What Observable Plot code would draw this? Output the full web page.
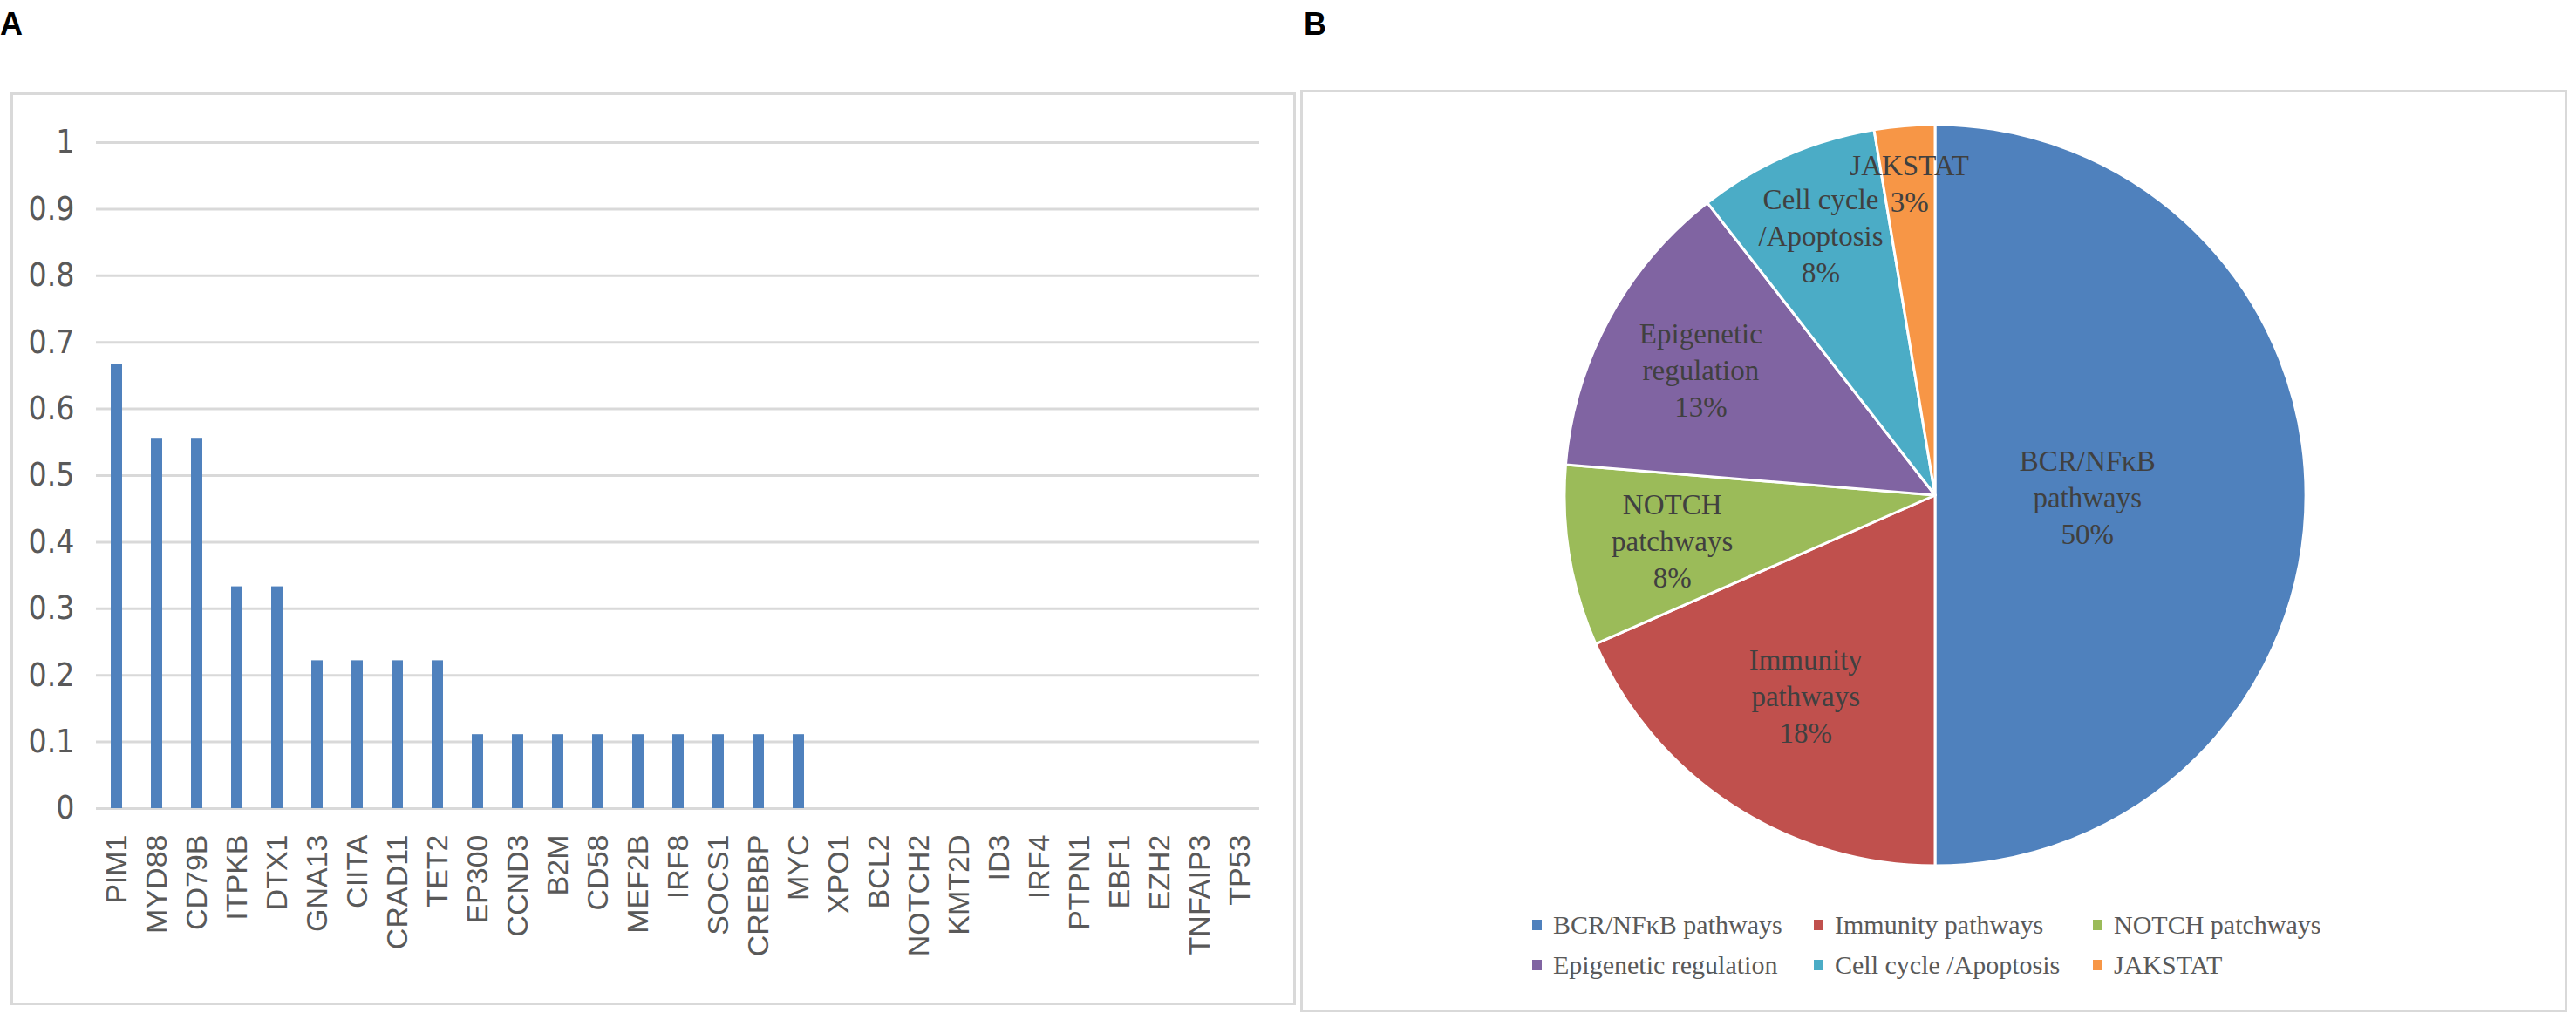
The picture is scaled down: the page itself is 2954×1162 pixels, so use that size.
<!DOCTYPE html>
<html>
<head>
<meta charset="utf-8">
<script src="https://cdn.jsdelivr.net/npm/d3@7"></script>
<script src="https://cdn.jsdelivr.net/npm/@observablehq/plot@0.6"></script>
<style>
  html, body { margin: 0; padding: 0; background: #fff; }
  #page { position: relative; width: 2954px; height: 1162px; overflow: hidden; background: #fff; }
  .panel-letter { position: absolute; font-family: "Liberation Sans", Arial, sans-serif; font-weight: bold; font-size: 36px; line-height: 1; color: #000; }
  .box { position: absolute; box-sizing: border-box; border: 3px solid #d9d9d9; background: #fff; }
  .plot { position: absolute; }
  #legend { position: absolute; left: 1757px; top: 1042px; font-family: "Liberation Serif", "Times New Roman", serif; font-size: 30px; color: #595959; display: grid; grid-template-columns: 323px 320px 300px; row-gap: 8px; }
  #legend .item { display: flex; align-items: center; height: 38px; white-space: nowrap; }
  #legend .sw { width: 11px; height: 12px; margin-right: 13px; flex: none; }
</style>
</head>
<body>
<div id="page">
  <div class="panel-letter" style="left:0px; top:10px;">A</div>
  <div class="panel-letter" style="left:1495px; top:10px;">B</div>
  <div class="box" style="left:12px; top:106px; width:1474px; height:1047px;"></div>
  <div class="box" style="left:1491px; top:103px; width:1453px; height:1058px;"></div>
  <div id="plotA" class="plot" style="left:13px; top:108px;"></div>
  <div id="plotB" class="plot" style="left:1492px; top:104px;"></div>
  <div id="legend"></div>
</div>
<script>
// ---------- Panel A data ----------
const genes = ["PIM1","MYD88","CD79B","ITPKB","DTX1","GNA13","CIITA","CRAD11","TET2",
  "EP300","CCND3","B2M","CD58","MEF2B","IRF8","SOCS1","CREBBP","MYC",
  "XPO1","BCL2","NOTCH2","KMT2D","ID3","IRF4","PTPN1","EBF1","EZH2","TNFAIP3","TP53"];
const mutationFreq = [0.667,0.556,0.556,0.333,0.333,0.222,0.222,0.222,0.222,
  0.111,0.111,0.111,0.111,0.111,0.111,0.111,0.111,0.111,
  0,0,0,0,0,0,0,0,0,0,0];
const yTicks = [0,0.1,0.2,0.3,0.4,0.5,0.6,0.7,0.8,0.9,1];
const yTickLabels = ["0","0.1","0.2","0.3","0.4","0.5","0.6","0.7","0.8","0.9","1"];

// ---------- Panel B data ----------
const pathways = ["BCR/NFκB pathways","Immunity pathways","NOTCH patchways","Epigenetic regulation","Cell cycle /Apoptosis","JAKSTAT"];
const pathwayCounts = [19,7,3,5,3,1];
const sliceLabelLines = [["BCR/NFκB","pathways"],["Immunity","pathways"],["NOTCH","patchways"],["Epigenetic","regulation"],["Cell cycle","/Apoptosis"],["JAKSTAT"]];
const pathwayColors = ["#4F81BD","#C0504D","#9BBB59","#8064A2","#4BACC6","#F79646"];

// ---------- Panel A ----------
const barData = genes.map((g, i) => ({gene: g, value: mutationFreq[i]}));
const narrow = "'Liberation Sans Narrow', 'DejaVu Sans Condensed', 'Liberation Sans', sans-serif";
const plotA = Plot.plot({
  width: 1472, height: 1044,
  marginLeft: 97, marginRight: 41, marginTop: 55, marginBottom: 225,
  style: {background: "transparent", overflow: "visible"},
  x: {domain: genes, paddingInner: 0.72, paddingOuter: 0.36, label: null},
  y: {domain: [0, 1], label: null},
  marks: [
    Plot.ruleY(yTicks, {stroke: "#d9d9d9", strokeWidth: 3}),
    Plot.barY(barData, {x: "gene", y: "value", fill: "#4F81BD"}),
    Plot.axisY({ticks: yTicks, tickFormat: (d) => yTickLabels[yTicks.indexOf(d)], tickSize: 0, tickPadding: 25,
      fontSize: 37, fontFamily: narrow, color: "#595959", label: null}),
    Plot.axisX({tickRotate: -90, tickSize: 0, tickPadding: 30, fontSize: 34,
      fontFamily: "'Liberation Sans', Arial, sans-serif", color: "#595959", label: null})
  ]
});
document.getElementById("plotA").appendChild(plotA);

// ---------- Panel B ----------
const W = 1451, H = 1056, cx = 727, cy = 464, R = 425;
const labelRadius = [0.41, 0.64, 0.72, 0.72, 0.77, 0.85];
const total = d3.sum(pathwayCounts);
const arcs = d3.pie().sort(null).value(d => d)(pathwayCounts);
const arcGen = d3.arc().innerRadius(0).outerRadius(R);
const sliceData = arcs.map((a, i) => {
  const mid = (a.startAngle + a.endAngle) / 2;
  return {
    arc: a, i,
    lx: cx + R * labelRadius[i] * Math.sin(mid),
    ly: cy - R * labelRadius[i] * Math.cos(mid),
    text: sliceLabelLines[i].concat([Math.round(pathwayCounts[i] / total * 100) + "%"]).join("\n")
  };
});
const plotB = Plot.plot({
  width: W, height: H, margin: 0,
  style: {background: "transparent", overflow: "visible"},
  x: {type: "identity", axis: null},
  y: {type: "identity", axis: null},
  marks: [
    () => {
      const g = d3.create("svg:g").attr("transform", `translate(${cx},${cy})`);
      g.selectAll("path").data(sliceData).join("path")
        .attr("d", d => arcGen(d.arc))
        .attr("fill", d => pathwayColors[d.i])
        .attr("stroke", "#fff").attr("stroke-width", 3).attr("stroke-linejoin", "round");
      return g.node();
    },
    Plot.text(sliceData, {x: "lx", y: "ly", text: "text", fontSize: 33, lineHeight: 1.27,
      fontFamily: "'Liberation Serif', 'Times New Roman', serif", fill: "#404040"})
  ]
});
document.getElementById("plotB").appendChild(plotB);

// legend
const legend = document.getElementById("legend");
pathways.forEach((p, i) => {
  const item = document.createElement("div");
  item.className = "item";
  const sw = document.createElement("span");
  sw.className = "sw";
  sw.style.background = pathwayColors[i];
  const t = document.createElement("span");
  t.textContent = p;
  item.appendChild(sw); item.appendChild(t);
  legend.appendChild(item);
});
</script>
</body>
</html>
